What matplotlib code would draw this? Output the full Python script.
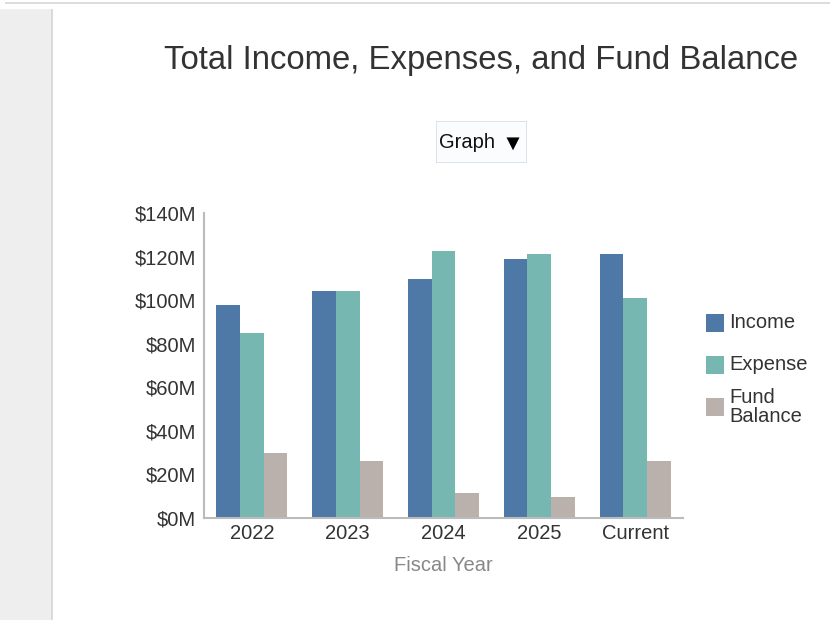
# Total income / expenses / fund balance grouped bar chart
import matplotlib
matplotlib.use("Agg")
import matplotlib.pyplot as plt
from matplotlib.patches import Rectangle
import numpy as np

plt.rcParams['font.family'] = ['Liberation Sans', 'DejaVu Sans']

# data (millions of dollars)
years = ["2022", "2023", "2024", "2025", "Current"]
income = [97.8, 104.3, 109.5, 118.7, 121.2]
expense = [85.0, 104.3, 122.7, 121.2, 101.1]
fund_balance = [29.8, 26.3, 11.3, 9.5, 26.3]
series_names = ["Income", "Expense", "Fund\nBalance"]
series_colors = ["#4e79a7", "#76b7b2", "#bab0ac"]
y_ticks = [0, 20, 40, 60, 80, 100, 120, 140]

fig = plt.figure(figsize=(8.32, 6.2), dpi=100)


def px_rect(x0, y0, w, h, color):
    # rectangle given in pixel coords from top-left
    fig.add_artist(Rectangle((x0 / 832, 1 - (y0 + h) / 620), w / 832, h / 620,
                             transform=fig.transFigure, facecolor=color,
                             edgecolor="none"))


# page chrome: gray strip on the left and thin line on top
px_rect(0, 9, 51, 611, "#eeeeee")
px_rect(51, 9, 2, 611, "#dadada")
px_rect(5, 2, 825, 2, "#dcdcdc")

ax = fig.add_axes([204 / 832, (620 - 518) / 620, 479 / 832, 305 / 620])

x = np.arange(len(years))
w = 0.247
for i, vals in enumerate([income, expense, fund_balance]):
    ax.bar(x + (i - 1) * w, vals, width=w, color=series_colors[i],
           edgecolor="none", zorder=2)

ax.set_xlim(-0.5, len(years) - 0.5)
ax.set_ylim(0, 140)
ax.set_yticks(y_ticks)
ax.set_yticklabels([f"${t}M" for t in y_ticks])
ax.set_xticks(x)
ax.set_xticklabels(years)
ax.tick_params(axis="both", length=0, labelsize=14.5, colors="#333333")
ax.tick_params(axis="y", pad=5.5)
ax.tick_params(axis="x", pad=4.5)
for s in ["top", "right"]:
    ax.spines[s].set_visible(False)
for s in ["left", "bottom"]:
    ax.spines[s].set_color("#bbbbbb")
    ax.spines[s].set_linewidth(1.5)
ax.set_xlabel("Fiscal Year", fontsize=14.5, color="#888888", labelpad=9.5)

# title
fig.text(481 / 832, 1 - 61 / 620, "Total Income, Expenses, and Fund Balance",
         ha="center", va="center", fontsize=23.7, color="#333333")

# "Graph" dropdown
px_rect(436, 121, 91, 42, "#dde3ea")
px_rect(437, 122, 89, 40, "#fbfcfe")
fig.text(439 / 832, 1 - 142 / 620, "Graph", ha="left", va="center",
         fontsize=14.5, color="#111111")
fig.text(512 / 832, 1 - 144 / 620, "\u25BC", ha="center", va="center",
         fontsize=16, color="#000000")

# legend
for i, name in enumerate(series_names):
    cy = 323 + 42 * i
    px_rect(706, cy - 9, 18, 18, series_colors[i])
    fig.text(729 / 832, 1 - cy / 620, name, ha="left", va="center",
             fontsize=14.5, color="#333333", linespacing=1.05)

fig.savefig("out.png", dpi=100)
